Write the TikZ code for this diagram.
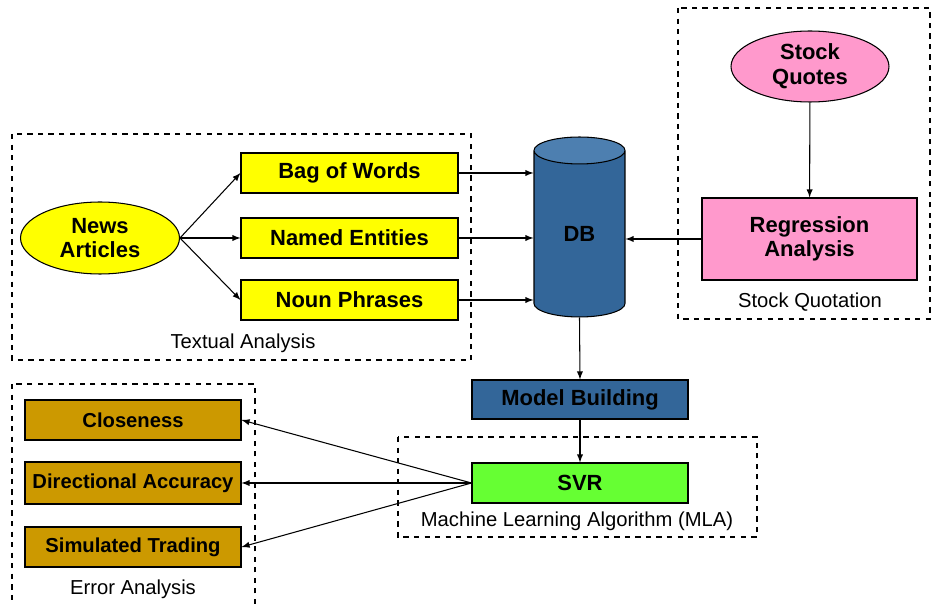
\documentclass[tikz,border=0pt]{standalone}
\usepackage{fontspec}
\setmainfont{Liberation Sans}
\usetikzlibrary{shapes.geometric}
\definecolor{ybox}{HTML}{FFFF00}
\definecolor{pbox}{HTML}{FF99CC}
\definecolor{bbox}{HTML}{336699}
\definecolor{btop}{HTML}{4D7FB0}
\definecolor{gbox}{HTML}{66FF33}
\definecolor{obox}{HTML}{CC9900}
\tikzset{
    blk/.style={draw, line width=0.6pt, inner sep=0pt, align=center, font=\fontsize{12.5}{14}\selectfont\bfseries},
    wbox/.style={blk, rectangle, minimum width=4.34cm, minimum height=0.8cm},
    ebox/.style={wbox, fill=obox, minimum width=4.32cm, font=\fontsize{11.5}{13}\selectfont\bfseries},
    oval/.style={blk, ellipse, minimum width=3.18cm, minimum height=1.44cm},
    grp/.style={dashed, line width=0.6pt},
    grplabel/.style={font=\fontsize{11.5}{13}\selectfont},
}
\begin{document}
\begin{tikzpicture}[x=0.02cm, y=-0.02cm, >=latex, line width=0.6pt]
    \useasboundingbox (0,0) rectangle (931,604);
    % groups
    \draw[grp] (12,134) rectangle (471,360);
    \draw[grp] (678,8) rectangle (930,319);
    \draw[grp] (398,437) rectangle (757,537);
    \draw[grp] (12,384) -- (12,604) (255,604) -- (255,384) -- (12,384);
    \node[grplabel] (ta) at (243,343) {Textual Analysis};
    \node[grplabel] (sqt) at (810,302) {Stock Quotation};
    \node[grplabel] (mla) at (577,521) {Machine Learning Algorithm (MLA)};
    \node[grplabel] (ea) at (133,589) {Error Analysis};
    % textual analysis
    \node[oval, fill=ybox] (news) at (100,238) {News\\Articles};
    \node[wbox, fill=ybox] (bow) at (349.5,173) {Bag of Words};
    \node[wbox, fill=ybox] (ne) at (349.5,238) {Named Entities};
    \node[wbox, fill=ybox] (np) at (349.5,300) {Noun Phrases};
    \draw[->] (news.east) -- (bow.west);
    \draw[->] (news.east) -- (ne.west);
    \draw[->] (news.east) -- (np.west);
    % database
    \node[blk, cylinder, shape border rotate=90, aspect=0.85, minimum width=1.82cm, minimum height=3.6cm,
          cylinder uses custom fill, cylinder body fill=bbox, cylinder end fill=btop] (db) at (579.5,234) {DB};
    \draw[->] (bow.east) -- (bow.east -| db.west);
    \draw[->] (ne.east) -- (ne.east -| db.west);
    \draw[->] (np.east) -- (np.east -| db.west);
    % stock quotation
    \node[oval, fill=pbox, minimum width=3.16cm, minimum height=1.42cm] (sq) at (810,66.5) {Stock\\Quotes};
    \node[wbox, fill=pbox, minimum width=4.3cm, minimum height=1.64cm] (reg) at (809.5,239) {Regression\\Analysis};
    \draw[->] (sq) -- (reg);
    \draw[->] (reg.west) -- (reg.west -| db.east);
    % model and svr
    \node[wbox, fill=bbox, minimum width=4.32cm, minimum height=0.78cm] (mb) at (580,399.5) {Model Building};
    \node[wbox, fill=gbox, minimum width=4.32cm] (svr) at (580,483) {SVR};
    \draw[->] (db.south) -- (mb.north);
    \draw[->] (mb) -- (svr);
    % error analysis
    \node[ebox] (clo) at (133,420) {Closeness};
    \node[ebox, minimum height=0.84cm] (da) at (133,483) {Directional Accuracy};
    \node[ebox] (st) at (133,547) {Simulated Trading};
    \draw[->] (svr.west) -- (clo.east);
    \draw[->] (svr.west) -- (da.east);
    \draw[->] (svr.west) -- (st.east);
\end{tikzpicture}
\end{document}
